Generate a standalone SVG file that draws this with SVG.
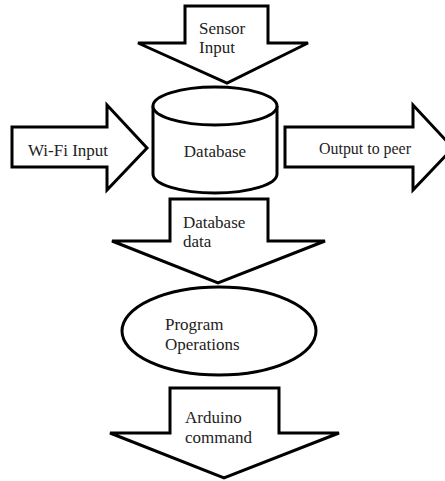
<svg xmlns="http://www.w3.org/2000/svg" width="445" height="481" viewBox="0 0 445 481">
<style>
.s{fill:#fff;stroke:#000;stroke-width:3;stroke-linejoin:miter}
.t{font-family:"Liberation Serif","Times New Roman",serif;font-size:17px;fill:#222}
</style>
<rect width="445" height="481" fill="#fff"/>
<g id="connectors">
<g id="sensor-input">
<polygon class="s" points="185,6 268,6 268,43 308,43 227,83 138,43 185,43"/>
<text class="t" x="199" y="34">Sensor</text>
<text class="t" x="199" y="53">Input</text>
</g>
<g id="wifi-input">
<polygon class="s" points="12,127 107,127 107,105 147,148 107,190 107,167 12,167"/>
<text class="t" x="28" y="156">Wi-Fi Input</text>
</g>
<g id="output-to-peer">
<polygon class="s" points="285,127 413,127 413,105 453,148 413,190 413,167 285,167"/>
<text class="t" x="319" y="154" textLength="92" lengthAdjust="spacingAndGlyphs">Output to peer</text>
</g>
<g id="database-data">
<polygon class="s" points="170,199 268,199 268,241 325,241 218,283 112,241 170,241"/>
<text class="t" x="183" y="228">Database</text>
<text class="t" x="183" y="247">data</text>
</g>
<g id="arduino-command">
<polygon class="s" points="170,388 279,388 279,433 339,433 224,478 110,433 170,433"/>
<text class="t" x="185" y="423">Arduino</text>
<text class="t" x="185" y="443">command</text>
</g>
</g>
<g id="database">
<path class="s" d="M153,106 V174 A62,19 0 0 0 277,174 V106"/>
<ellipse class="s" cx="215" cy="106" rx="62" ry="19"/>
<text class="t" x="215" y="157" text-anchor="middle">Database</text>
</g>
<g id="program-operations">
<ellipse class="s" cx="219" cy="331" rx="97" ry="44"/>
<text class="t" x="165" y="330">Program</text>
<text class="t" x="165" y="350">Operations</text>
</g>
</svg>
